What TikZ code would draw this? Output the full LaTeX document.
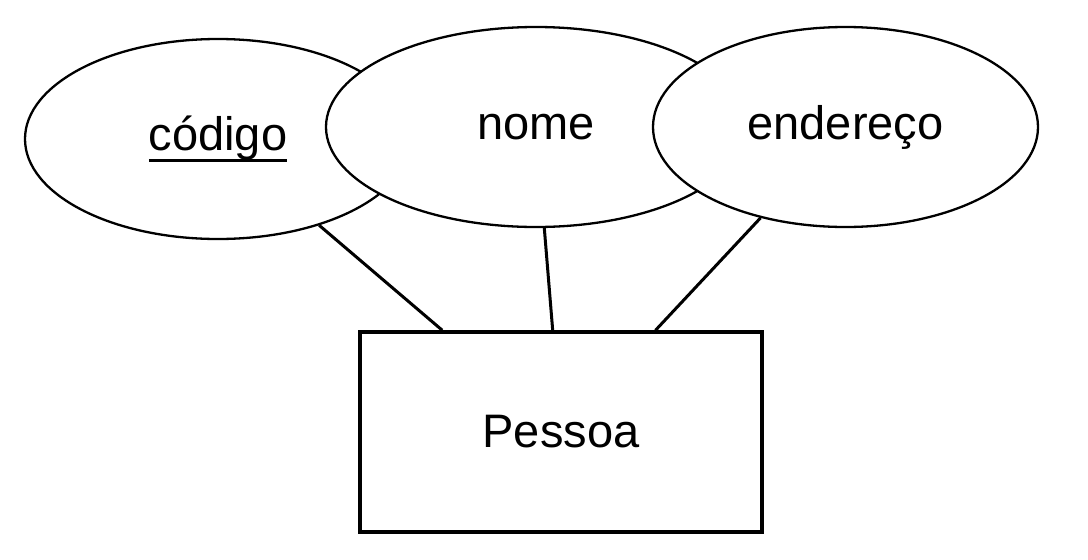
\documentclass[tikz,border=0pt]{standalone}
\usepackage{fontspec}
\setmainfont{Liberation Sans}
\usetikzlibrary{shapes.geometric}

% underline for the key attribute
\newcommand{\chave}[1]{\setbox0=\hbox{#1}\makebox[0pt][l]{\rule[-11pt]{\wd0}{3pt}}\box0}

\begin{document}
\begin{tikzpicture}[x=1pt,y=-1pt,
    atributo/.style={ellipse, draw, fill=white, line width=2.3pt, inner sep=0pt,
      minimum width=#1, minimum height=200pt},
    entidade/.style={rectangle, draw, fill=white, line width=3.5pt, inner sep=0pt,
      minimum width=402pt, minimum height=200pt},
    ligacao/.style={line width=3pt}]
        \fontsize{47pt}{56pt}\selectfont
        \useasboundingbox (0,0) rectangle (1088,560);

        % Draw the attributes
        \node[atributo=386pt] (codigo) at (218,139) {\chave{código}};
        \node[atributo=420pt] (nome) at (536,127) {nome};
        \node[atributo=385pt] (endereco) at (845.5,127) {endereço};

        % Draw the entity
        \node[entidade] (pessoa) at (561,432) {Pessoa};

        % Connect attributes to the entity
        \draw[ligacao] (codigo) -- (pessoa);
        \draw[ligacao] (nome) -- (pessoa);
        \draw[ligacao] (endereco) -- (pessoa);

      \end{tikzpicture}
\end{document}
